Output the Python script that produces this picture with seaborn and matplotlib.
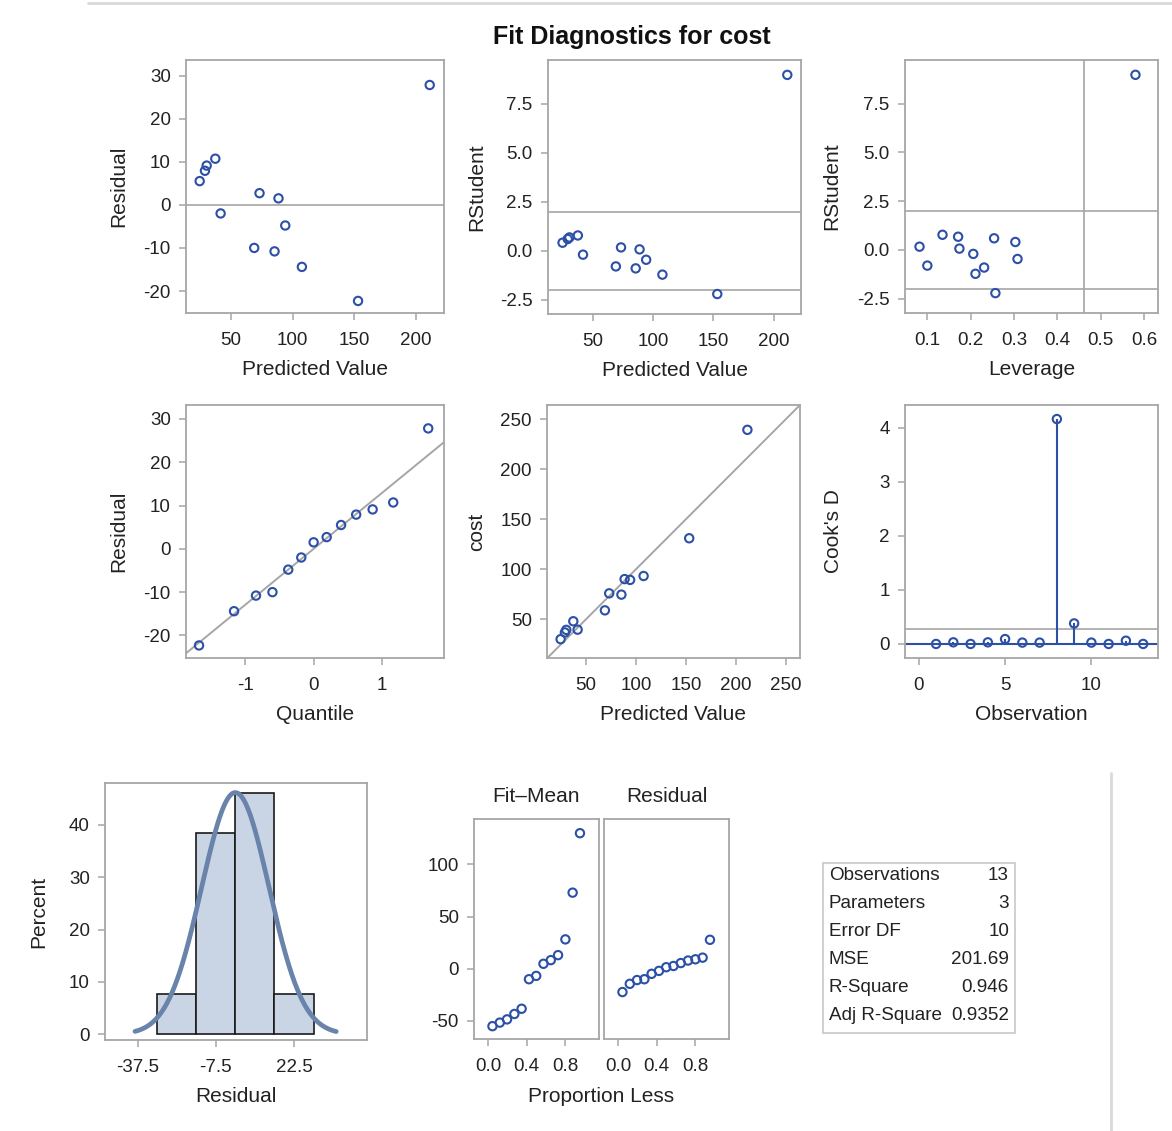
import numpy as np
import pandas as pd
import matplotlib
matplotlib.use("Agg")
import matplotlib.pyplot as plt
import seaborn as sns
from matplotlib.patches import Rectangle
from matplotlib.lines import Line2D
from matplotlib.ticker import FormatStrFormatter

# ---------------- data ----------------
PREDICTED = [24.6, 28.9, 30.3, 37.3, 41.6, 68.9, 73.2, 85.4, 88.6, 94.1, 107.6, 153.2, 211.4]
RESIDUAL = [5.5, 7.9, 9.1, 10.7, -2.0, -10.0, 2.7, -10.8, 1.5, -4.8, -14.4, -22.3, 27.8]
COST = [30.1, 36.8, 39.4, 48.0, 39.6, 58.9, 75.9, 74.6, 90.1, 89.3, 93.2, 130.9, 239.2]
RSTUDENT = [0.41, 0.60, 0.68, 0.78, -0.20, -0.80, 0.17, -0.90, 0.07, -0.46, -1.22, -2.21, 8.98]
LEVERAGE = [0.303, 0.254, 0.171, 0.135, 0.206, 0.100, 0.082, 0.231, 0.174, 0.308, 0.211, 0.257, 0.580]

QUANTILE = [-1.67, -1.16, -0.84, -0.60, -0.37, -0.18, 0.00, 0.19, 0.40, 0.62, 0.86, 1.16, 1.67]
QQ_RESIDUAL = [-22.3, -14.4, -10.8, -10.0, -4.8, -2.0, 1.5, 2.7, 5.5, 7.9, 9.1, 10.7, 27.8]
QQ_SLOPE = 12.96

OBSERVATION = [1, 2, 3, 4, 5, 6, 7, 8, 9, 10, 11, 12, 13]
COOKS_D = [0.0, 0.03, 0.0, 0.03, 0.09, 0.025, 0.025, 4.16, 0.38, 0.025, 0.0, 0.06, 0.0]
COOKS_REF = 0.28
RSTUDENT_REF = 2.0
LEVERAGE_REF = 0.4615

HIST_BINS = [-30, -15, 0, 15, 30]
NORMAL_MU = 0.0
NORMAL_SIGMA = 12.96
NORMAL_RANGE = (-38.5, 38.7)

PROP_LESS = [0.047, 0.123, 0.198, 0.274, 0.349, 0.425, 0.500, 0.575, 0.651, 0.726, 0.802, 0.877, 0.953]
FIT_MEAN = [-55.0, -51.6, -48.5, -43.3, -38.3, -10.0, -6.8, 4.8, 8.3, 13.1, 28.2, 73.0, 130.0]
SPREAD_RESIDUAL = [-22.3, -14.4, -10.8, -10.0, -4.8, -2.0, 1.5, 2.7, 5.5, 7.9, 9.1, 10.7, 27.8]

STAT_NAMES = ["Observations", "Parameters", "Error DF", "MSE", "R-Square", "Adj R-Square"]
STAT_VALUES = ["13", "3", "10", "201.69", "0.946", "0.9352"]

# ---------------- style ----------------
sns.set_theme(style="white")
plt.rcParams["font.family"] = ["Liberation Sans", "DejaVu Sans"]
plt.rcParams["axes.unicode_minus"] = False

W, H = 1172, 1131
BLUE = "#2b50a6"
GRID = "#a6a6a6"
TXT = "#222222"
TICK_FS = 13.5
LAB_FS = 15

fig = plt.figure(figsize=(W / 100, H / 100), dpi=100)


def add_ax(l, t, r, b):
    ax = fig.add_axes([l / W, 1 - b / H, (r - l) / W, (b - t) / H])
    ax._px = (r - l, b - t)
    return ax


def style(ax, xlabel=None, ylabel=None, yoff=70):
    for s in ax.spines.values():
        s.set_color(GRID)
        s.set_linewidth(1.3)
    ax.tick_params(axis="both", which="major", direction="out", length=5, width=1.1,
                   color=GRID, labelsize=TICK_FS, labelcolor=TXT, bottom=True, left=True)
    ax.tick_params(axis="x", pad=9)
    ax.tick_params(axis="y", pad=6)
    wpx, hpx = ax._px
    ax.set_xlabel(xlabel if xlabel else "", fontsize=LAB_FS, color=TXT)
    ax.set_ylabel(ylabel if ylabel else "", fontsize=LAB_FS, color=TXT)
    ax.xaxis.set_label_coords(0.5, -47 / hpx)
    ax.yaxis.set_label_coords(-(yoff - 10) / wpx, 0.5)
    ax.grid(False)


def points(ax, x, y):
    sns.scatterplot(x=x, y=y, ax=ax, marker="o", s=36, facecolors="none",
                    edgecolor=BLUE, linewidth=1.5, legend=False, zorder=3)
    ax.collections[-1].set_facecolor("none")
    ax.collections[-1].set_edgecolor(BLUE)


# ---- Panel 1: Residual vs Predicted
ax1 = add_ax(186, 60, 444, 313)
points(ax1, PREDICTED, RESIDUAL)
ax1.axhline(0, color=GRID, lw=1.2, zorder=1)
ax1.set_xlim(13.5, 223)
ax1.set_ylim(-25.1, 33.6)
ax1.set_xticks([50, 100, 150, 200])
ax1.set_yticks([-20, -10, 0, 10, 20, 30])
style(ax1, "Predicted Value", "Residual", yoff=68)

# ---- Panel 2: RStudent vs Predicted
ax2 = add_ax(548, 60, 801, 314)
points(ax2, PREDICTED, RSTUDENT)
ax2.axhline(RSTUDENT_REF, color=GRID, lw=1.2, zorder=1)
ax2.axhline(-RSTUDENT_REF, color=GRID, lw=1.2, zorder=1)
ax2.set_xlim(12.5, 222.8)
ax2.set_ylim(-3.23, 9.74)
ax2.set_xticks([50, 100, 150, 200])
ax2.set_yticks([-2.5, 0, 2.5, 5.0, 7.5])
ax2.yaxis.set_major_formatter(FormatStrFormatter("%.1f"))
style(ax2, "Predicted Value", "RStudent", yoff=72)

# ---- Panel 3: RStudent vs Leverage
ax3 = add_ax(905, 60, 1158, 313)
points(ax3, LEVERAGE, RSTUDENT)
ax3.axhline(RSTUDENT_REF, color=GRID, lw=1.2, zorder=1)
ax3.axhline(-RSTUDENT_REF, color=GRID, lw=1.2, zorder=1)
ax3.axvline(LEVERAGE_REF, color=GRID, lw=1.2, zorder=1)
ax3.set_xlim(0.0485, 0.632)
ax3.set_ylim(-3.23, 9.74)
ax3.set_xticks([0.1, 0.2, 0.3, 0.4, 0.5, 0.6])
ax3.set_yticks([-2.5, 0, 2.5, 5.0, 7.5])
ax3.yaxis.set_major_formatter(FormatStrFormatter("%.1f"))
ax3.xaxis.set_major_formatter(FormatStrFormatter("%.1f"))
style(ax3, "Leverage", "RStudent", yoff=74)

# ---- Panel 4: QQ plot
ax4 = add_ax(186, 405, 444, 658)
ax4.axline((0, NORMAL_MU), slope=QQ_SLOPE, color=GRID, lw=1.4, zorder=1)
points(ax4, QUANTILE, QQ_RESIDUAL)
ax4.set_xlim(-1.86, 1.90)
ax4.set_ylim(-25.2, 33.2)
ax4.set_xticks([-1, 0, 1])
ax4.set_yticks([-20, -10, 0, 10, 20, 30])
style(ax4, "Quantile", "Residual", yoff=68)

# ---- Panel 5: cost vs predicted
ax5 = add_ax(547, 405, 800, 658)
ax5.axline((0, 0), slope=1, color=GRID, lw=1.4, zorder=1)
points(ax5, PREDICTED, COST)
ax5.set_xlim(11, 264)
ax5.set_ylim(11.3, 264)
ax5.set_xticks([50, 100, 150, 200, 250])
ax5.set_yticks([50, 100, 150, 200, 250])
style(ax5, "Predicted Value", "cost", yoff=71)

# ---- Panel 6: Cook's D
ax6 = add_ax(905, 405, 1158, 658)
ax6.axhline(COOKS_REF, color=GRID, lw=1.2, zorder=1)
ax6.axhline(0, color=BLUE, lw=1.5, zorder=2)
ax6.vlines(OBSERVATION, 0, COOKS_D, color=BLUE, lw=1.5, zorder=2)
points(ax6, OBSERVATION, COOKS_D)
ax6.set_xlim(-0.8, 13.86)
ax6.set_ylim(-0.26, 4.42)
ax6.set_xticks([0, 5, 10])
ax6.set_yticks([0, 1, 2, 3, 4])
style(ax6, "Observation", "Cook's D", yoff=72)

# ---- Panel 7: histogram of residuals
ax7 = add_ax(105, 783, 367, 1040)
sns.histplot(x=RESIDUAL, bins=HIST_BINS, stat="percent", ax=ax7, color="#c9d4e5",
             edgecolor="#1a1a1a", linewidth=1.2, alpha=1.0, zorder=2)
xs = np.linspace(NORMAL_RANGE[0], NORMAL_RANGE[1], 300)
bw = HIST_BINS[1] - HIST_BINS[0]
dens = 100 * bw * np.exp(-0.5 * ((xs - NORMAL_MU) / NORMAL_SIGMA) ** 2) / (NORMAL_SIGMA * np.sqrt(2 * np.pi))
sns.lineplot(x=xs, y=dens, ax=ax7, color="#6983aa", lw=3.4, zorder=3, sort=False)
ax7.set_xlim(-50, 50.5)
ax7.set_ylim(-1.08, 48)
ax7.set_xticks([-37.5, -7.5, 22.5])
ax7.set_xticklabels(["-37.5", "-7.5", "22.5"])
ax7.set_yticks([0, 10, 20, 30, 40])
style(ax7, "Residual", "Percent", yoff=67)

# ---- Panel 8: residual-fit spread
ax8a = add_ax(474, 819, 599, 1039)
ax8b = add_ax(604, 819, 729, 1039)
points(ax8a, PROP_LESS, FIT_MEAN)
points(ax8b, PROP_LESS, SPREAD_RESIDUAL)
for ax, ttl in ((ax8a, "Fit\u2013Mean"), (ax8b, "Residual")):
    ax.set_xlim(-0.144, 1.15)
    ax.set_ylim(-67.3, 143.6)
    ax.set_xticks([0.0, 0.4, 0.8])
    ax.xaxis.set_major_formatter(FormatStrFormatter("%.1f"))
    style(ax)
    ax.set_title(ttl, fontsize=LAB_FS, color=TXT, pad=12)
ax8a.set_yticks([-50, 0, 50, 100])
ax8b.set_yticks([-50, 0, 50, 100])
ax8b.tick_params(axis="y", left=False, labelleft=False)
fig.text(601 / W, 1 - 1097 / H, "Proportion Less", ha="center", va="center",
         fontsize=LAB_FS, color=TXT)

# ---- statistics table
fig.add_artist(Rectangle((823 / W, 1 - 1033 / H), (1015 - 823) / W, (1033 - 863) / H,
                         transform=fig.transFigure, fill=False, edgecolor="#c8c8c8", lw=1.2))
rows_y = [876, 904, 931, 959, 987, 1015]
for name, val, yy in zip(STAT_NAMES, STAT_VALUES, rows_y):
    fig.text(829 / W, 1 - yy / H, name, ha="left", va="center", fontsize=13.6, color=TXT)
    fig.text(1009 / W, 1 - yy / H, val, ha="right", va="center", fontsize=13.6, color=TXT)

# ---- title and page decorations
fig.text(632 / W, 1 - 37 / H, "Fit Diagnostics for cost", ha="center", va="center",
         fontsize=18, fontweight="bold", color="#111111")
fig.add_artist(Line2D([88 / W, 1.0], [1 - 3 / H, 1 - 3 / H], transform=fig.transFigure,
                      color="#d9d9d9", lw=2))
fig.add_artist(Line2D([1111 / W, 1111 / W], [1 - 773 / H, 0.0], transform=fig.transFigure,
                      color="#d9d9d9", lw=2))

fig.savefig("out.png", dpi=100)
